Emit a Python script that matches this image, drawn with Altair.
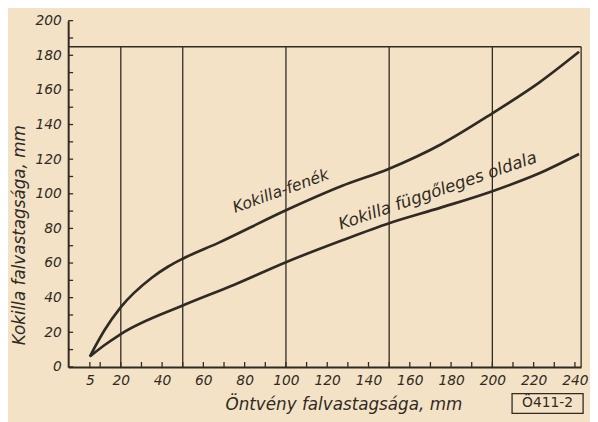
import altair as alt
import pandas as pd

# ---- data ----
fenek_x = [5, 12, 20, 35, 43, 50, 67, 100, 127, 150, 175, 200, 223, 242]
fenek_y = [6, 21, 34.5, 51.5, 58, 62.5, 71.5, 90.5, 104.5, 114.5, 128.5, 146.5, 164.5, 182]

oldal_x = [5, 12, 20, 50, 75, 100, 127, 150, 175, 200, 223, 242]
oldal_y = [6, 12.5, 19, 35.5, 47.5, 60.5, 73, 83, 92, 101.5, 112, 123]

x_labels = [5, 20, 40, 60, 80, 100, 120, 140, 160, 180, 200, 220, 240]
y_labels = [0, 20, 40, 60, 80, 100, 120, 140, 160, 180, 200]
x_minor = [5] + list(range(10, 241, 10))
y_minor = list(range(0, 201, 10))
grid_x = [20, 50, 100, 150, 200, 243]
top_line = 185

X_DOM = [-5.5, 243]
Y_DOM = [0, 200]
W, H = 520, 351
INK = "#2f2a23"
BG = "#f4e2c6"
FONT = "DejaVu Sans"

curves = pd.DataFrame(
    {"x": fenek_x + oldal_x,
     "y": fenek_y + oldal_y,
     "s": ["fenek"] * len(fenek_x) + ["oldal"] * len(oldal_x)}
)

xs = alt.Scale(domain=X_DOM, nice=False, zero=False)
ys = alt.Scale(domain=Y_DOM, nice=False, zero=False)

x_axis = alt.Axis(values=x_labels, title="Öntvény falvastagsága, mm", grid=False, ticks=False,
                  domainColor=INK, domainWidth=2, labelColor=INK, labelFont=FONT,
                  labelFontStyle="italic", labelFontSize=14, labelPadding=7,
                  labelOverlap=False, labelFlush=False,
                  titleFont=FONT, titleFontStyle="italic", titleFontWeight="normal",
                  titleFontSize=17, titleColor=INK, titleX=279, titleY=38,
                  titleBaseline="middle", titleAlign="center")
y_axis = alt.Axis(values=y_labels, title="Kokilla falvastagsága, mm", grid=False, ticks=False,
                  domainColor=INK, domainWidth=2, labelColor=INK, labelFont=FONT,
                  labelFontStyle="italic", labelFontSize=14, labelPadding=7,
                  labelOverlap=False, labelFlush=False,
                  titleFont=FONT, titleFontStyle="italic", titleFontWeight="normal",
                  titleFontSize=17, titleColor=INK, titleX=-49, titleY=217,
                  titleBaseline="middle", titleAlign="center", titleAngle=270)


def X(field):
    return alt.X(field, type="quantitative", scale=xs, axis=x_axis)


def Y(field):
    return alt.Y(field, type="quantitative", scale=ys, axis=y_axis)


grid = alt.Chart(pd.DataFrame({"x": grid_x})).mark_rule(color=INK, strokeWidth=1.3).encode(
    x=X("x"), y=Y("y0"), y2="y1:Q",
).transform_calculate(y0="0", y1=str(top_line))

top = alt.Chart(pd.DataFrame({"y": [top_line]})).mark_rule(color=INK, strokeWidth=1.5).encode(
    y=Y("y"), x=alt.value(0), x2=alt.value(W)
)

lines = alt.Chart(curves).mark_line(color=INK, strokeWidth=2.7, interpolate="monotone").encode(
    x=X("x"), y=Y("y"), detail="s:N"
)

ytick = alt.Chart(pd.DataFrame({"y": y_minor})).mark_rule(color=INK, strokeWidth=1.3).encode(
    y=Y("y"), x=alt.value(0), x2=alt.value(5)
)
xtick = alt.Chart(pd.DataFrame({"x": x_minor})).mark_rule(color=INK, strokeWidth=1.3).encode(
    x=X("x"), y=alt.value(H), y2=alt.value(H - 5)
)

lab1 = alt.Chart(pd.DataFrame({"x": [97.5], "y": [101.5], "t": ["Kokilla-fenék"]})).mark_text(
    font=FONT, fontStyle="italic", fontSize=16, color=INK, angle=340, baseline="middle"
).encode(x=X("x"), y=Y("y"), text="t:N")

lab2 = alt.Chart(pd.DataFrame({"x": [173.5], "y": [101.5], "t": ["Kokilla függőleges oldala"]})).mark_text(
    font=FONT, fontStyle="italic", fontSize=17, color=INK, angle=341, baseline="middle"
).encode(x=X("x"), y=Y("y"), text="t:N")

box = alt.Chart(pd.DataFrame({"a": [0]})).mark_rect(fill=BG, stroke=INK, strokeWidth=1.3).encode(
    x=alt.value(450), x2=alt.value(522), y=alt.value(378), y2=alt.value(398)
)
code = alt.Chart(pd.DataFrame({"t": ["Ö411-2"]})).mark_text(
    font=FONT, fontSize=14, color=INK, baseline="middle"
).encode(x=alt.value(486), y=alt.value(388), text="t:N")

chart = alt.layer(grid, top, lines, ytick, xtick, lab1, lab2, box, code).properties(
    width=W, height=H,
    background=BG,
    autosize=alt.AutoSizeParams(type="none"),
    padding={"left": 61, "top": 10, "right": 9, "bottom": 53},
).configure_view(stroke=None)

chart.save("out.html", embed_options={"renderer": "svg", "actions": False})
